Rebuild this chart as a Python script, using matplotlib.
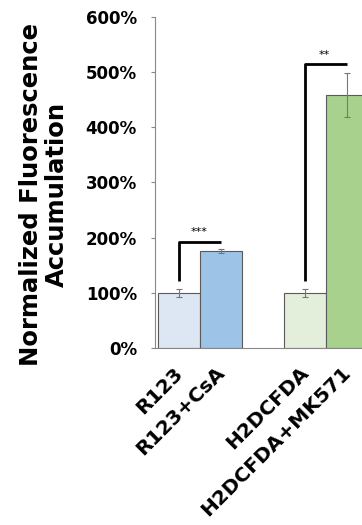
import matplotlib
matplotlib.use("Agg")
import matplotlib.pyplot as plt
import matplotlib.transforms as mtransforms

# Data
labels = ["R123", "R123+CsA", "H2DCFDA", "H2DCFDA+MK571"]
values = [100, 176, 100, 458]
errors = [7, 3, 7, 40]
positions = [0, 1, 3, 4]
colors = ["#dce7f3", "#9dc3e6", "#e3efda", "#a9d18e"]
yticks = [0, 100, 200, 300, 400, 500, 600]
sig_pairs = [(0, 1, 193, "***"), (2, 3, 514, "**")]

plt.rcParams["font.family"] = ["DejaVu Sans"]

fig = plt.figure(figsize=(3.62, 5.25), dpi=100)
ax = fig.add_axes([155 / 362, 1 - 348 / 525, 1 - 155 / 362, (348 - 17) / 525])

ax.bar(positions, values, width=1.0, color=colors, edgecolor="#5a5a5a",
       linewidth=0.8, zorder=2)
ax.errorbar(positions, values, yerr=errors, fmt="none", ecolor="#777777",
            elinewidth=0.8, capsize=2, capthick=0.8, zorder=3)

# significance brackets
for a, b, top, stars in sig_pairs:
    ax.plot([positions[a], positions[a], positions[b]],
            [121, top, top], color="black", lw=2,
            solid_capstyle="butt", zorder=4, clip_on=False)
    ax.text((positions[a] + positions[b]) / 2 - 0.03, top + 8, stars,
            ha="center", va="bottom", fontsize=8)

ax.set_ylim(0, 600)
ax.set_xlim(-0.57, 4.36)
ax.set_yticks(yticks)
ax.set_yticklabels([f"{v}%" for v in yticks], fontsize=12, fontweight="bold")
ax.set_xticks(positions)
ax.set_xticklabels(labels, rotation=45, ha="right", rotation_mode="anchor",
                   fontsize=14.5, fontweight="bold")
ax.tick_params(axis="x", length=0, pad=11)
ax.tick_params(axis="y", length=3, width=0.8, color="#888888", pad=10)
shift = mtransforms.ScaledTranslation(-6 / 100, 0, fig.dpi_scale_trans)
for lbl in ax.get_xticklabels():
    lbl.set_transform(lbl.get_transform() + shift)

for side in ["top", "right"]:
    ax.spines[side].set_visible(False)
for side in ["left", "bottom"]:
    ax.spines[side].set_color("#888888")
    ax.spines[side].set_linewidth(0.8)

fig.text(44 / 362, 1 - 194 / 525, "Normalized Fluorescence\nAccumulation",
         rotation=90, ha="center", va="center", fontsize=17.5,
         fontweight="bold", linespacing=1.1)

fig.savefig("out.png", dpi=100)
